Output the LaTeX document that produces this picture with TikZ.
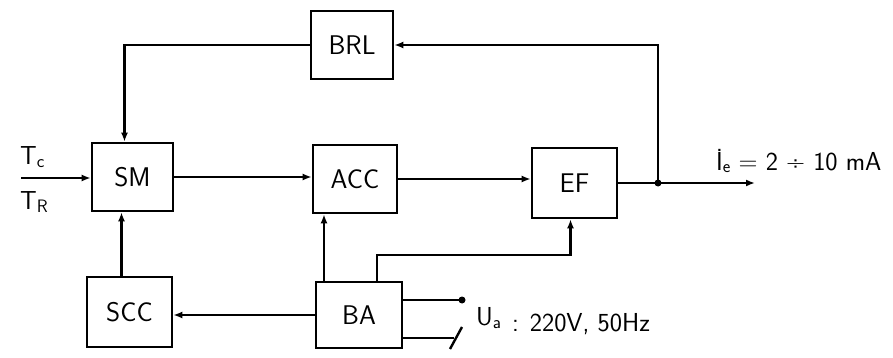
\documentclass[tikz,border=0pt]{standalone}
\usetikzlibrary{arrows.meta}
\newcommand{\mysub}[1]{\raisebox{-0.25ex}{\fontsize{18}{20}\selectfont #1}}
\begin{document}
\begin{tikzpicture}[x=1pt,y=-1pt,
  blk/.style={draw,line width=2.6pt,minimum width=#1,minimum height=68pt,inner sep=0pt,font=\sffamily\fontsize{27}{30}\selectfont},
  wire/.style={line width=2.4pt},
  arr/.style={line width=2.4pt,-{Latex[length=9pt,width=7pt]}},
  lbl/.style={font=\sffamily\fontsize{26}{30}\selectfont,inner sep=0pt}]
\useasboundingbox (0,0) rectangle (893,358);
\node[blk=82pt] (BRL) at (352,45) {BRL};
\node[blk=81pt] (SM) at (132.5,177) {SM};
\node[blk=84pt] (ACC) at (355,179) {ACC};
\node[blk=85pt,minimum height=70pt] (EF) at (574.5,183) {EF};
\node[blk=85pt,minimum height=70pt] (SCC) at (129.5,312) {SCC};
\node[blk=86pt,minimum height=66pt] (BA) at (359,315) {BA};
% input
\coordinate (in) at (21,178);
\draw[arr] (in) -- (in -| SM.west);
\node[lbl,anchor=west] (tc) at (20,157) {T\mysub{c}};
\node[lbl,anchor=west] (tr) at (20,202) {T\mysub{R}};
% forward path
\draw[arr] (SM.east) -- (SM.east -| ACC.west);
\draw[arr] (ACC.east) -- (ACC.east -| EF.west);
\coordinate (out) at (755,183);
\coordinate (j) at (658,183);
\draw[arr] (EF.east) -- (out);
\fill (j) circle (3.5pt);
\draw[arr] (j) |- (BRL.east);
\draw[arr] (BRL.west) -| ([xshift=-8pt]SM.north);
\node[lbl,anchor=west] (ie) at (716,161) {İ\mysub{e} = 2 ÷ 10 mA};
% power
\coordinate (a1) at (324,250);
\coordinate (a2) at (377,255);
\draw[arr] (BA.north -| a1) -- (ACC.south -| a1);
\draw[arr] (BA.north -| a2) -- (a2) -| ([xshift=-4pt]EF.south);
\draw[arr] (BA.west) -- (BA.west -| SCC.east);
\draw[arr] ([xshift=-8pt]SCC.north) -- ([xshift=-8pt]SCC.north |- SM.south);
% mains terminals
\coordinate (t1) at (462,300);
\coordinate (t2) at (454,338);
\draw[wire] (BA.east |- t1) -- (t1);
\fill (t1) circle (3.5pt);
\draw[wire] (BA.east |- t2) -- (t2);
\coordinate (s1) at (450,349);
\coordinate (s2) at (462,327);
\draw[wire] (s1) -- (s2);
\node[lbl,anchor=west] (ua) at (476,318) {U\mysub{a}};
\node[lbl,anchor=west] (mains) at (512,324) {: 220V, 50Hz};
\end{tikzpicture}
\end{document}
